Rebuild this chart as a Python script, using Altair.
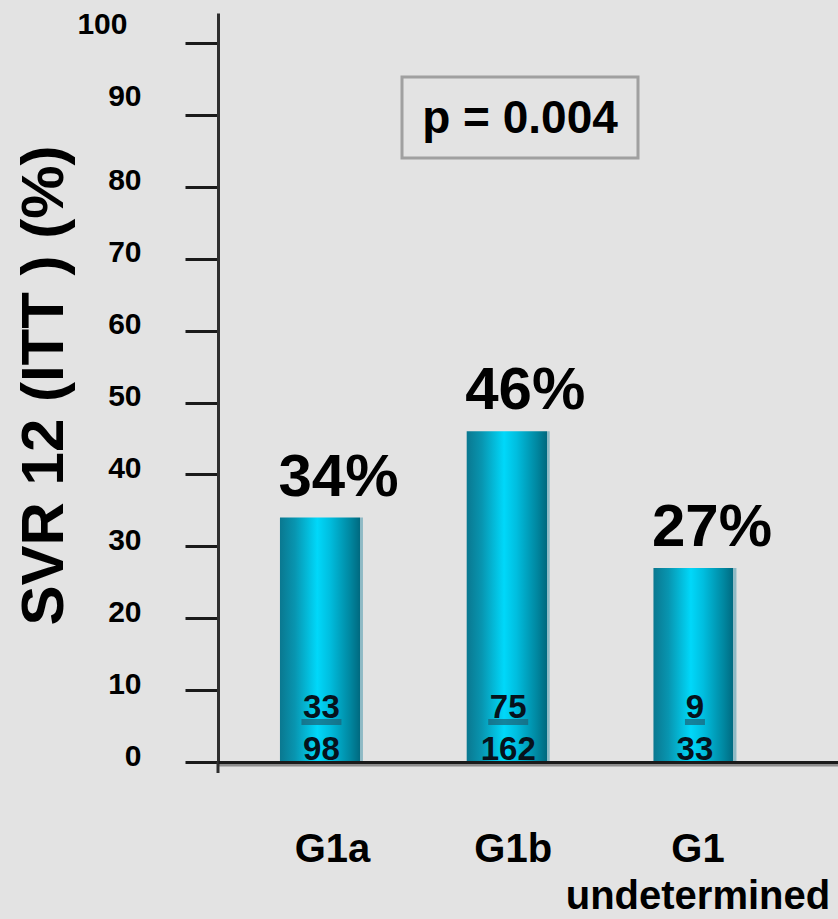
import altair as alt
import pandas as pd

# Sustained virologic response by genotype-1 subtype
categories = ["G1a", "G1b", "G1 undetermined"]
svr_percent = [34, 46, 27]
responders = ["33", "75", "9"]
patients = ["98", "162", "33"]
y_ticks = [0, 10, 20, 30, 40, 50, 60, 70, 80, 90, 100]
p_value_text = "p = 0.004"

FONT = "Liberation Sans, Arial, Helvetica"

df = pd.DataFrame({
    "group": categories,
    "svr": svr_percent,
    "num": responders,
    "den": patients,
})
df["pct"] = df["svr"].astype(str) + "%"
df["uw"] = df["num"].str.len() * 20

x_enc = alt.X(
    "group:N",
    sort=categories,
    scale=alt.Scale(paddingInner=0.556, paddingOuter=0.438, align=0.379),
    axis=alt.Axis(
        title=None,
        labelAngle=0,
        ticks=False,
        domainColor="#1a1a1a",
        domainWidth=3,
        labelFont=FONT,
        labelFontSize=40,
        labelFontWeight="bold",
        labelColor="#000000",
        labelPadding=67,
        labelLineHeight=47,
        labelLimit=0,
        labelExpr="split(datum.label, ' ')",
        labelOffset=alt.ExprRef("datum.value == 'G1a' ? 11 : (datum.value == 'G1b' ? 5 : 3)"),
        zindex=1,
    ),
)

y_scale = alt.Scale(domain=[0, 104.2], nice=False, zero=True)

bar_fill = alt.LinearGradient(
    gradient="linear",
    x1=0, x2=1, y1=0, y2=0,
    stops=[
        alt.GradientStop(offset=0.0, color="#0a7890"),
        alt.GradientStop(offset=0.18, color="#0895b0"),
        alt.GradientStop(offset=0.45, color="#00d8fa"),
        alt.GradientStop(offset=0.6, color="#00bedf"),
        alt.GradientStop(offset=0.85, color="#00869f"),
        alt.GradientStop(offset=0.962, color="#006a80"),
        alt.GradientStop(offset=0.964, color="#8fbac5"),
        alt.GradientStop(offset=1.0, color="#8fbac5"),
    ],
)

base = alt.Chart(df)

bars = base.mark_bar(color=bar_fill, size=83).encode(
    x=x_enc,
    y=alt.Y(
        "svr:Q",
        scale=y_scale,
        axis=alt.Axis(
            values=y_ticks,
            grid=False,
            domainColor="#2e2e2e",
            domainWidth=3,
            tickColor="#1a1a1a",
            tickWidth=3,
            tickSize=33,
            labelFont=FONT,
            labelFontSize=30,
            labelFontWeight="bold",
            labelColor="#000000",
            labelAlign="right",
            labelPadding=alt.ExprRef("datum.value == 100 ? 58 : 44"),
            labelOffset=alt.ExprRef("datum.value >= 90 ? -19 : -6"),
            title="SVR 12 (ITT ) (%)",
            titleFont=FONT,
            titleFontSize=60,
            titleFontWeight="bold",
            titleColor="#000000",
            titleAngle=270,
            titleAlign="center",
            titleBaseline="alphabetic",
            titleX=-156,
            titleY=372,
        ),
    ),
)

pct_labels = base.mark_text(
    font=FONT, fontSize=60, fontWeight="bold", color="#000000",
    baseline="alphabetic", align="center", dx=17, dy=-22,
).encode(x=alt.X("group:N", sort=categories), y=alt.Y("svr:Q", scale=y_scale), text="pct:N")

numerators = base.mark_text(
    font=FONT, fontSize=33, fontWeight="bold", color="#06121c",
    baseline="alphabetic", align="center", dy=-44,
).encode(x=alt.X("group:N", sort=categories), y=alt.datum(0), text="num:N")

denominators = base.mark_text(
    font=FONT, fontSize=33, fontWeight="bold", color="#06121c",
    baseline="alphabetic", align="center", dy=-2,
).encode(x=alt.X("group:N", sort=categories), y=alt.datum(0), text="den:N")

fraction_bars = base.mark_tick(
    thickness=6, color="#1d5f75", yOffset=-40,
).encode(
    x=alt.X("group:N", sort=categories),
    y=alt.datum(0),
    size=alt.Size("uw:Q", scale=None),
)

# shadow under the category axis line
axis_shadow = alt.Chart(pd.DataFrame({"v": [0]})).mark_rule(
    color="#8c8c8c", strokeWidth=3, yOffset=3,
).encode(y=alt.Y("v:Q", scale=y_scale))

# the value axis line runs a little past the baseline
axis_stub = alt.Chart(pd.DataFrame({"v": [0]})).mark_rule(
    color="#2e2e2e", strokeWidth=3,
).encode(x=alt.value(0), y=alt.Y("v:Q", scale=y_scale), y2=alt.value(760))

# p-value annotation box
p_box = alt.Chart(pd.DataFrame({"t": [p_value_text]})).mark_rect(
    fill="#e3e3e3", stroke="#a0a0a0", strokeWidth=3,
).encode(
    x=alt.value(184), x2=alt.value(420),
    y=alt.value(64), y2=alt.value(145),
)
p_text = alt.Chart(pd.DataFrame({"t": [p_value_text]})).mark_text(
    font=FONT, fontSize=46, fontWeight="bold", color="#000000",
    baseline="alphabetic", align="center",
).encode(x=alt.value(302), y=alt.value(120), text="t:N")

chart = alt.layer(
    axis_shadow, axis_stub, bars, fraction_bars, numerators, denominators, pct_labels, p_box, p_text,
).resolve_scale(
    y="shared"
).properties(
    width=620,
    height=749,
    background="#e3e3e3",
    autosize=alt.AutoSizeParams(type="none"),
    padding={"left": 218, "top": 13, "right": 0, "bottom": 157},
).configure_view(stroke=None)

chart.save("out.html", embed_options={"renderer": "svg", "actions": False})
